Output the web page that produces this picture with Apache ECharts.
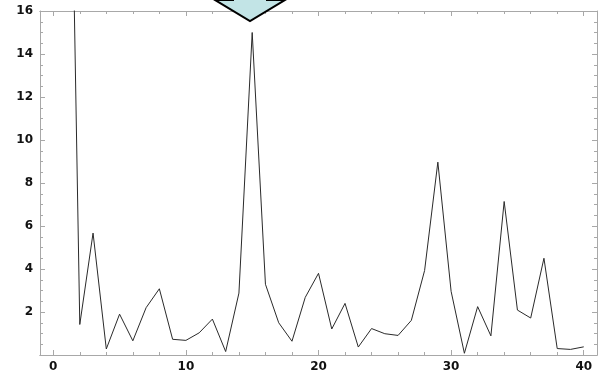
<!DOCTYPE html>
<html><head><meta charset="utf-8">
<script src="https://cdn.jsdelivr.net/npm/echarts@6/dist/echarts.min.js"></script>
<style>html,body{margin:0;padding:0;background:#fff}#c{width:602px;height:375px}</style>
</head><body><div id="c"></div>
<script>
const xValues = [1,2,3,4,5,6,7,8,9,10,11,12,13,14,15,16,17,18,19,20,21,22,23,24,25,26,27,28,29,30,31,32,33,34,35,36,37,38,39,40];
const yValues = [37,1.42,5.67,0.28,1.9,0.66,2.2,3.08,0.73,0.68,1.03,1.67,0.16,2.88,15.0,3.29,1.5,0.64,2.68,3.8,1.21,2.4,0.37,1.23,0.99,0.91,1.61,3.93,8.97,2.96,0.08,2.25,0.89,7.14,2.09,1.72,4.5,0.3,0.26,0.38];
const xMajorTicks = [0,10,20,30,40];
const xMinorTicks = [0,2,4,6,8,10,12,14,16,18,20,22,24,26,28,30,32,34,36,38,40];
const yMin = 0, yMax = 16, yStep = 2;
const xMin = -1, xMax = 41;

const frameColor = '#a8a8a8';
const labelStyle = {color:'#111', fontFamily:'DejaVu Sans', fontWeight:'bold', fontSize:12};

function xAx(pos, ticks, len, showLabels){
  return {
    type:'value', min:xMin, max:xMax, position:pos, gridIndex:0,
    axisLine:{show:true, onZero:false, lineStyle:{color:frameColor, width:1}},
    axisTick:{show:true, inside:true, length:len, customValues:ticks, lineStyle:{color:frameColor}},
    axisLabel: showLabels ? Object.assign({show:true, customValues:xMajorTicks, margin:6}, labelStyle) : {show:false},
    splitLine:{show:false}
  };
}
function yAx(pos, showLabels){
  return {
    type:'value', min:yMin, max:yMax, interval:yStep, position:pos, gridIndex:0,
    axisLine:{show:true, onZero:false, lineStyle:{color:frameColor, width:1}},
    axisTick:{show:true, inside:true, length:5, lineStyle:{color:frameColor}},
    minorTick:{show:true, splitNumber:4, length:3, lineStyle:{color:frameColor}},
    axisLabel: showLabels ? Object.assign({show:true, showMinLabel:false, margin:7}, labelStyle) : {show:false},
    splitLine:{show:false}
  };
}

const chart = echarts.init(document.getElementById('c'), null, {renderer:'canvas'});
chart.setOption({
  animation:false,
  backgroundColor:'#fff',
  grid:{left:40, right:5, top:11, bottom:20, containLabel:false},
  xAxis:[
    xAx('bottom', xMajorTicks, 5, true),
    xAx('bottom', xMinorTicks, 3, false),
    xAx('top', xMinorTicks, 3, false),
    xAx('top', xMajorTicks, 5, false)
  ],
  yAxis:[ yAx('left', true), yAx('right', false) ],
  series:[{
    type:'line', xAxisIndex:0, yAxisIndex:0,
    data: xValues.map((x,i)=>[x, yValues[i]]),
    showSymbol:false, symbol:'none', clip:true,
    lineStyle:{color:'#2a2a2a', width:1}
  }],
  graphic:[{
    type:'polygon', z:100,
    shape:{points:[[233,-10],[233,0],[215,0],[250,21],[285,0],[267,0],[267,-10]]},
    style:{fill:'#c2e4e6', stroke:'#000', lineWidth:2}
  }]
});
</script>
</body></html>
